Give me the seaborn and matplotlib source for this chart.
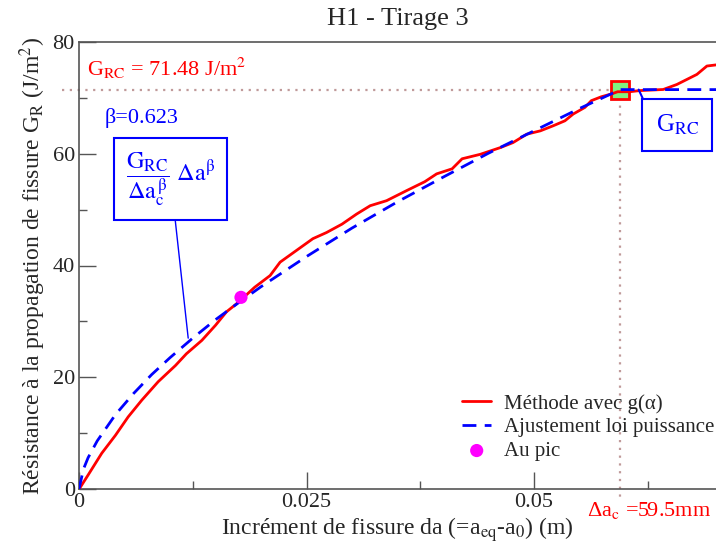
"""
Courbe R : H1 - Tirage 3
Résistance à la propagation de fissure et ajustement loi puissance.
"""

import numpy as np
import pandas as pd
import matplotlib
matplotlib.use("Agg")
import matplotlib.pyplot as plt
import seaborn as sns

# --------------------------------------------------
# Data
# --------------------------------------------------

# Méthode avec g(alpha)
da_meas = [0.0, 0.0001, 0.001, 0.0025, 0.004, 0.0054, 0.0069, 0.0087,
           0.0106, 0.0118, 0.0135, 0.0150, 0.0162, 0.0175, 0.0193,
           0.0210, 0.0221, 0.0239, 0.0257, 0.0272, 0.0289, 0.0305,
           0.0320, 0.0338, 0.0360, 0.0380, 0.0393, 0.0410, 0.0421,
           0.0441, 0.0463, 0.0477, 0.0492, 0.0507, 0.0521, 0.0534,
           0.0543, 0.0556, 0.0563, 0.0574, 0.0585, 0.0592, 0.0605,
           0.0616, 0.0642, 0.0657, 0.0679, 0.0690, 0.0700]
gr_meas = [0.0, 0.2, 2.5, 6.4, 9.6, 12.9, 15.9, 19.2,
           22.1, 24.2, 26.6, 29.3, 31.7, 33.4, 36.1,
           38.2, 40.6, 42.7, 44.8, 45.9, 47.4, 49.2,
           50.7, 51.6, 53.4, 55.0, 56.4, 57.3, 59.1,
           59.9, 61.1, 62.0, 63.5, 64.1, 65.0, 65.9,
           67.1, 68.3, 69.5, 70.2, 70.7, 71.1, 71.1,
           71.3, 71.5, 72.4, 74.2, 75.7, 75.9]

# Ajustement loi puissance
da_fit = [0.0, 0.0005, 0.001, 0.002, 0.004, 0.006, 0.008, 0.010,
          0.0125, 0.015, 0.0175, 0.020, 0.025, 0.030, 0.035, 0.040,
          0.045, 0.050, 0.055, 0.0595, 0.0700]
gr_fit = [0.0, 3.6, 5.6, 8.6, 13.3, 17.1, 20.5, 23.5,
          27.0, 30.3, 33.3, 36.2, 41.6, 46.7, 51.4, 55.8,
          60.1, 64.1, 68.1, 71.48, 71.48]

# Au pic
da_pic = [0.0178]
gr_pic = [34.3]

# Critical point
G_RC = 71.48
DA_C = 0.0595
BETA = 0.623

meas = pd.DataFrame({"da": da_meas, "GR": gr_meas})
fit = pd.DataFrame({"da": da_fit, "GR": gr_fit})
pic = pd.DataFrame({"da": da_pic, "GR": gr_pic})

# --------------------------------------------------
# Style
# --------------------------------------------------

sns.set_style("ticks")
plt.rcParams["font.family"] = ["Liberation Serif", "DejaVu Serif"]
plt.rcParams["mathtext.fontset"] = "stix"

fig = plt.figure(figsize=(7.16, 5.47), dpi=100)
ax = fig.add_axes([79 / 716, 58 / 547, 637 / 716, 447 / 547])

# Reference lines for critical point
ax.plot([-0.0019, DA_C], [G_RC, G_RC], linestyle=(0, (1, 2.5)),
        color="#c09a9a", linewidth=1.6, clip_on=False, zorder=1)
ax.plot([DA_C, DA_C], [G_RC, -2.0], linestyle=(0, (1, 2.5)),
        color="#c09a9a", linewidth=1.6, clip_on=False, zorder=1)

sns.lineplot(data=meas, x="da", y="GR", ax=ax, color="red",
             linewidth=2, label="Méthode avec g(α)", zorder=3,
             estimator=None, sort=False)
sns.lineplot(data=fit, x="da", y="GR", ax=ax, color="blue",
             linewidth=2, linestyle=(0, (5, 3)),
             label="Ajustement loi puissance", zorder=4,
             estimator=None, sort=False)
sns.scatterplot(data=pic, x="da", y="GR", ax=ax, color="magenta",
                s=90, edgecolor="none", label="Au pic", zorder=5)

# Critical point marker
ax.plot([DA_C], [G_RC], marker="s", markersize=13,
        markerfacecolor="#80f080", markeredgecolor="red",
        markeredgewidth=2, zorder=2)

# --------------------------------------------------
# Axes
# --------------------------------------------------

ax.set_xlim(0, 0.07)
ax.set_ylim(0, 80)
ax.set_xticks([0, 0.025, 0.05])
ax.set_xticklabels(["0", "0.025", "0.05"])
ax.set_xticks([0.0125, 0.0375, 0.0625], minor=True)
ax.set_yticks([0, 20, 40, 60, 80])
ax.set_yticks([10, 30, 50, 70], minor=True)
ax.tick_params(axis="both", which="major", direction="in",
               length=12, width=1, labelsize=16, color="#555555", pad=3)
ax.tick_params(axis="both", which="minor", direction="in",
               length=6, width=1, color="#555555")

for side in ["left", "bottom", "top"]:
    ax.spines[side].set_color("#555555")
    ax.spines[side].set_linewidth(1.2)
ax.spines["right"].set_visible(False)

ax.set_xlabel(r"Incrément de fissure da (=a$_\mathrm{eq}$-a$_\mathrm{0}$) (m)",
              fontsize=17, labelpad=2)
ax.set_ylabel(r"Résistance à la propagation de fissure G$_\mathrm{R}$ (J/m$^2$)",
              fontsize=17, labelpad=3)
ax.set_title("H1 - Tirage 3", fontsize=19, pad=12)

# --------------------------------------------------
# Annotations
# --------------------------------------------------

ax.text(0.012, 0.94, r"G$_\mathrm{RC}$ = 71.48 J/m$^2$",
        transform=ax.transAxes, color="red", fontsize=16,
        va="center", ha="left")
ax.text(0.041, 0.83, f"β={BETA}", transform=ax.transAxes,
        color="blue", fontsize=16, va="center", ha="left")

ax.annotate(r"$\mathrm{\dfrac{G_{RC}}{\Delta a_c^{\,\beta}}\ \Delta a^{\beta}}$",
            xy=(0.012, 27.0), xytext=(0.144, 0.693),
            textcoords="axes fraction", color="blue", fontsize=17.5,
            ha="center", va="center",
            bbox=dict(boxstyle="square,pad=0.5", facecolor="white",
                      edgecolor="blue", linewidth=1.5),
            arrowprops=dict(arrowstyle="-", color="blue", linewidth=1,
                            shrinkA=0, shrinkB=0))

ax.annotate(r"G$_\mathrm{RC}$",
            xy=(0.0615, G_RC), xytext=(0.939, 0.815),
            textcoords="axes fraction", color="blue", fontsize=18,
            ha="center", va="center",
            bbox=dict(boxstyle="square,pad=0.55", facecolor="white",
                      edgecolor="blue", linewidth=1.5),
            arrowprops=dict(arrowstyle="-", color="blue", linewidth=1.5,
                            shrinkA=0, shrinkB=0, relpos=(0, 0.45)))

ax.text(0.0558, -4.8, r"Δa$_\mathrm{c}$ =59.5mm", color="red",
        fontsize=16, ha="left", va="baseline", clip_on=False)

leg = ax.legend(loc="lower right", frameon=False, fontsize=15,
                handlelength=1.4, handletextpad=0.6,
                labelspacing=0.2, borderaxespad=0.3,
                bbox_to_anchor=(1.02, 0.03))

fig.savefig("out.png", dpi=100)
print("Saved: out.png")
